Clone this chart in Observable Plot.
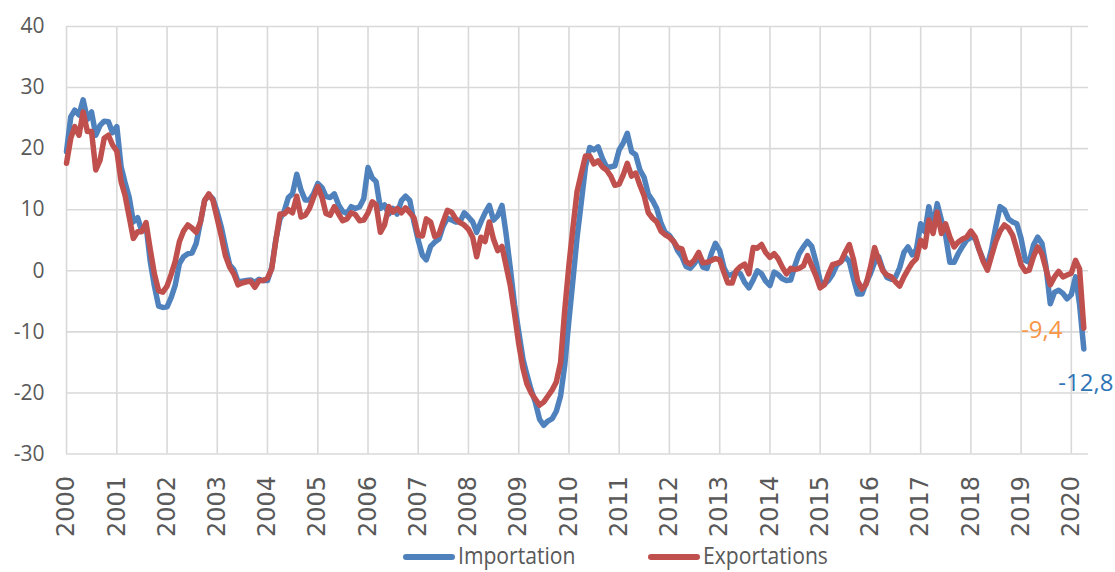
<!DOCTYPE html>
<html>
<head>
<meta charset="utf-8">
<script src="https://cdn.jsdelivr.net/npm/d3@7"></script>
<script src="https://cdn.jsdelivr.net/npm/@observablehq/plot@0.6"></script>
<style>
  html, body { margin: 0; padding: 0; background: #fff; }
  #wrap { position: relative; width: 1115px; height: 572px; }
  #legend { position: absolute; left: 0; top: 543px; width: 1115px; height: 24px; font-family: "Open Sans", sans-serif; color: #595959; }
  .item { position: absolute; top: 0; display: flex; align-items: center; height: 24px; }
  .sw { width: 52px; height: 6px; border-radius: 3px; margin-right: 3px; margin-top: 4px; }
  .lab { font-size: 24px; line-height: 24px; transform-origin: left center; transform: scaleX(0.88); white-space: nowrap; }
</style>
</head>
<body>
<div id="wrap">
  <div id="chart"></div>
  <div id="legend"></div>
</div>
<script>
// Monthly series, January 2000 to April 2020 (year-on-year change, %)
const importation = [
  19.5, 25.2, 26.3, 25.5, 28.0, 24.8, 26.0, 22.2, 23.8, 24.5, 24.4, 22.6,
  23.6, 17.0, 14.5, 12.0, 8.0, 8.7, 6.5, 7.5, 1.5, -2.5, -5.8, -6.0,
  -5.9, -4.3, -2.4, 1.2, 2.3, 2.8, 2.9, 4.5, 8.0, 11.5, 12.4, 11.8,
  9.6, 7.0, 4.0, 1.0, 0.2, -1.8, -1.7, -1.6, -1.5, -1.9, -1.4, -1.6,
  -1.6, 0.5, 5.0, 8.5, 9.7, 12.0, 12.6, 15.8, 13.2, 11.6, 11.6, 12.6,
  14.3, 13.6, 12.2, 12.0, 12.6, 10.8, 9.7, 9.4, 10.5, 10.2, 10.5, 11.8,
  16.9, 15.2, 14.6, 10.2, 10.8, 9.3, 10.2, 9.3, 11.5, 12.2, 11.5, 8.0,
  5.0, 2.5, 1.8, 4.0, 4.7, 5.2, 7.3, 8.6, 8.3, 8.0, 8.0, 9.5,
  8.8, 8.0, 6.3, 8.0, 9.5, 10.7, 8.3, 9.0, 10.7, 6.0, 0.3, -5.5,
  -10.0, -14.5, -17.0, -19.5, -21.5, -24.3, -25.3, -24.6, -24.2, -23.0, -20.5, -15.5,
  -8.0, -1.0, 5.5, 11.3, 17.0, 20.2, 19.8, 20.3, 18.4, 17.0, 17.0, 17.2,
  19.8, 21.0, 22.5, 19.5, 19.0, 16.5, 15.3, 12.5, 11.5, 10.2, 7.8, 6.3,
  5.8, 4.8, 3.3, 2.3, 0.7, 0.4, 1.2, 2.3, 0.6, 0.4, 2.8, 4.5,
  3.3, 0.5, -0.8, -0.6, -0.2, -0.5, -1.9, -2.8, -1.5, 0.0, -0.5, -1.7,
  -2.4, -0.2, -0.6, -1.3, -1.6, -1.5, 0.8, 2.8, 3.9, 4.8, 4.0, 1.5,
  -1.7, -2.2, -1.6, -0.6, 0.9, 1.5, 2.3, 1.5, -1.3, -3.8, -3.8, -2.0,
  -0.5, 1.4, 2.3, 0.2, -1.1, -1.4, -1.1, 0.5, 3.0, 3.9, 2.6, 3.5,
  7.7, 6.4, 10.5, 7.2, 11.0, 8.3, 5.8, 1.4, 1.4, 2.8, 4.0, 5.0,
  5.5, 5.3, 3.5, 1.8, 0.9, 3.6, 7.2, 10.5, 10.0, 8.5, 8.0, 7.7,
  5.3, 1.7, 1.4, 4.2, 5.5, 4.5, 0.7, -5.4, -3.5, -3.2, -3.7, -4.6,
  -3.9, -1.0, -5.5, -12.8
];
const exportations = [
  17.6, 21.7, 23.6, 22.2, 26.0, 22.8, 22.8, 16.5, 18.1, 21.7, 22.2, 20.6,
  19.6, 14.6, 12.4, 8.8, 5.3, 6.4, 6.4, 7.9, 3.5, -0.5, -3.3, -3.5,
  -2.5, -0.5, 1.5, 4.8, 6.5, 7.5, 7.0, 6.3, 8.0, 11.5, 12.6, 11.5,
  8.5, 5.5, 2.5, 0.6, -0.5, -2.3, -2.0, -1.8, -1.7, -2.7, -1.6, -1.6,
  -1.2, 0.3, 4.8, 9.3, 9.3, 10.0, 9.5, 12.2, 8.8, 9.1, 10.2, 12.0,
  13.8, 12.0, 9.4, 9.1, 10.5, 9.3, 8.2, 8.5, 9.5, 9.2, 8.2, 8.3,
  9.5, 11.3, 10.8, 6.3, 7.5, 10.5, 9.6, 10.2, 9.5, 10.3, 9.5, 8.7,
  5.8, 5.7, 8.5, 8.0, 5.6, 6.0, 8.0, 9.9, 9.6, 8.5, 7.9, 7.5,
  6.8, 5.5, 2.3, 5.5, 4.8, 8.0, 5.2, 3.3, 4.0, 0.8, -2.5, -7.0,
  -12.0, -16.0, -18.5, -20.0, -21.0, -22.0, -21.5, -20.5, -19.5, -18.2, -15.0, -6.5,
  1.0, 7.5, 13.0, 16.0, 18.8, 18.8, 17.5, 18.0, 17.0, 16.5, 15.5, 14.0,
  14.2, 15.8, 17.6, 15.5, 16.0, 14.0, 12.3, 9.5, 8.6, 8.0, 6.5, 5.9,
  5.5, 4.8, 3.8, 3.6, 1.5, 1.1, 1.8, 3.0, 1.3, 1.4, 1.7, 2.0,
  1.8, -0.3, -2.0, -2.0, 0.0, 0.7, 1.1, -0.5, 3.8, 3.7, 4.3, 3.0,
  2.2, 2.8, 2.0, 0.6, -0.5, 0.4, 0.2, 0.4, 0.8, 2.5, 0.8, -0.8,
  -2.8, -2.3, -0.6, 1.0, 1.2, 1.5, 3.0, 4.3, 1.8, -1.7, -3.0, -2.2,
  0.5, 3.8, 1.8, 0.0, -0.7, -1.0, -1.8, -2.5, -1.0, 0.2, 1.3, 2.0,
  5.0, 3.9, 8.3, 6.1, 9.6, 6.1, 7.7, 5.5, 3.9, 4.7, 5.2, 5.5,
  6.5, 5.5, 3.5, 1.5, 0.1, 2.5, 4.8, 6.5, 7.5, 7.0, 5.8, 3.5,
  1.0, -0.1, 0.1, 2.3, 3.9, 2.8, 0.3, -2.3, -1.0, -0.1, -1.0, -0.7,
  -0.4, 1.7, 0.3, -9.4
];
const seriesNames = ["Importation", "Exportations"];
const seriesColors = ["#4F81BD", "#C0504D"];
const labelColors = ["#2E75B6", "#F79646"];
const yTicks = [-30, -20, -10, 0, 10, 20, 30, 40];
const yearTicks = d3.range(2000, 2021).map(y => new Date(Date.UTC(y, 0, 1)));

const months = d3.utcMonth.range(new Date(Date.UTC(2000, 0, 1)), new Date(Date.UTC(2020, 4, 1)));
const toRows = (vals, name) => vals.map((v, i) => ({date: months[i], value: v, serie: name}));
const impRows = toRows(importation, seriesNames[0]);
const expRows = toRows(exportations, seriesNames[1]);
const fmt = v => d3.format(".1f")(v).replace(".", ",").replace("\u2212", "-");
const lastImp = impRows[impRows.length - 1];
const lastExp = expRows[expRows.length - 1];

const chart = Plot.plot({
  width: 1115,
  height: 543,
  marginLeft: 66,
  marginRight: 27,
  marginTop: 26,
  marginBottom: 89.5,
  style: {fontFamily: "Open Sans, sans-serif", background: "#fff", color: "#595959", overflow: "visible"},
  x: {type: "utc", domain: [new Date(Date.UTC(2000, 0, 1)), new Date(Date.UTC(2020, 4, 5))]},
  y: {domain: [-30, 40]},
  marks: [
    Plot.gridX(yearTicks, {stroke: "#D9D9D9", strokeOpacity: 1, strokeWidth: 1.6}),
    Plot.gridY(yTicks, {stroke: "#D9D9D9", strokeOpacity: 1, strokeWidth: 1.6}),
    Plot.axisY(yTicks, {tickSize: 0, tickPadding: 22, fontSize: 21, fill: "#595959", label: null,
      tickFormat: d => String(d)}),
    Plot.axisX(yearTicks, {tickSize: 0, tickPadding: 22, tickRotate: -90, tickFormat: d3.utcFormat("%Y"),
      fontSize: 24, fontFamily: "DejaVu Sans, sans-serif", fill: "#595959", label: null}),
    Plot.lineY(impRows, {x: "date", y: "value", stroke: seriesColors[0], strokeWidth: 5.5, strokeLinejoin: "round", strokeLinecap: "round"}),
    Plot.lineY(expRows, {x: "date", y: "value", stroke: seriesColors[1], strokeWidth: 5.5, strokeLinejoin: "round", strokeLinecap: "round"}),
    Plot.text([lastExp], {x: "date", y: "value", text: d => fmt(d.value), fill: labelColors[1], fontSize: 24, dx: -42, dy: 2, textAnchor: "middle"}),
    Plot.text([lastImp], {x: "date", y: "value", text: d => fmt(d.value), fill: labelColors[0], fontSize: 24, dx: 2, dy: 34, textAnchor: "middle"})
  ]
});
document.getElementById("chart").appendChild(chart);

// Legend
const legend = document.getElementById("legend");
const legendX = [403, 648];
seriesNames.forEach((name, i) => {
  const item = document.createElement("div");
  item.className = "item";
  item.style.left = legendX[i] + "px";
  const sw = document.createElement("span");
  sw.className = "sw";
  sw.style.background = seriesColors[i];
  const lab = document.createElement("span");
  lab.className = "lab";
  lab.textContent = name;
  item.appendChild(sw);
  item.appendChild(lab);
  legend.appendChild(item);
});
</script>
</body>
</html>
